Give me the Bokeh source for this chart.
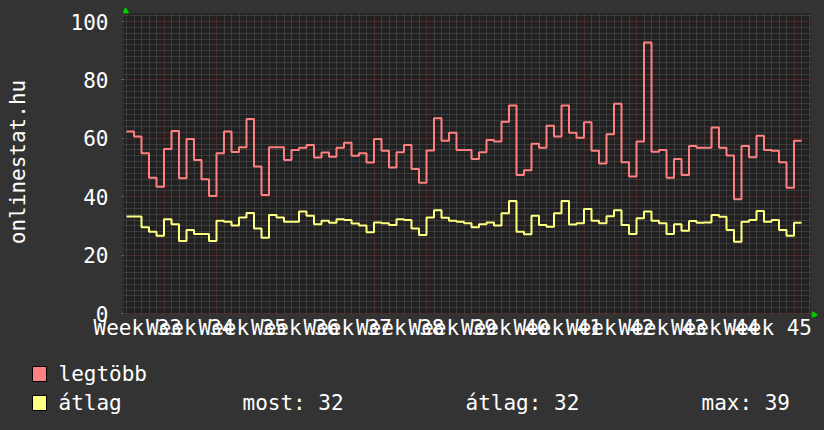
import math
from bokeh.plotting import figure
from bokeh.models import Range1d, FixedTicker, BoxAnnotation
from bokeh.core.properties import value
from bokeh.embed import file_html
from bokeh.resources import INLINE

# ---------------- data ----------------
weeks = list(range(33, 46))
week_labels = [f"Week {w}" for w in weeks]
y_ticks = [0, 20, 40, 60, 80, 100]

legtobb = [62.3, 60.6, 54.9, 46.5, 43.4, 56.3, 62.5, 46.3, 59.8, 52.6, 46.0, 40.2, 54.9, 62.3,
           55.3, 56.9, 66.6, 50.3, 40.6, 56.9, 56.9, 52.6, 56.0, 56.8, 57.7, 53.4, 55.1, 53.7, 56.8, 58.5,
           54.0, 54.9, 51.7, 59.8, 55.7, 50.0, 55.2, 57.7, 49.5, 44.8, 55.8, 66.9, 59.2, 61.9, 56.0, 56.0,
           52.9, 55.2, 59.4, 58.9, 65.7, 71.2, 47.4, 49.1, 58.1, 56.8, 64.3, 60.6, 71.2, 61.9, 60.2, 65.5,
           55.7, 51.4, 61.4, 71.8, 51.8, 46.9, 58.9, 92.8, 55.4, 56.0, 46.5, 52.9, 47.4, 57.4, 56.8,
           56.8, 63.7, 56.8, 54.1, 39.1, 57.4, 53.5, 60.9, 56.0, 55.7, 51.8, 43.1, 59.2]

atlag = [33.2, 33.2, 29.5, 28.0, 26.6, 32.3, 30.6, 24.8, 28.6, 27.2, 27.2, 24.8, 31.8, 31.4,
         30.1, 32.9, 34.4, 29.1, 25.9, 33.7, 32.9, 31.4, 31.4, 34.9, 33.5, 30.6, 31.8, 31.1, 32.3, 32.0,
         30.8, 30.1, 27.8, 31.2, 30.9, 30.3, 32.3, 32.0, 29.1, 26.9, 32.9, 35.4, 32.8, 31.8, 31.4, 30.9,
         29.5, 30.6, 31.2, 30.1, 34.3, 38.5, 28.0, 27.1, 33.5, 30.3, 29.7, 34.3, 38.5, 30.5, 30.9, 35.8,
         31.8, 30.9, 33.3, 35.4, 30.3, 27.2, 32.6, 34.9, 31.8, 30.9, 27.2, 30.6, 28.3, 31.7, 31.1,
         31.2, 33.7, 33.1, 28.6, 24.6, 31.4, 32.0, 35.1, 31.4, 32.0, 28.6, 26.6, 31.1]

series_names = ["legtöbb", "átlag"]
stat_texts = ["most: 32", "átlag: 32", "max: 39"]
y_title = "onlinestat.hu"

# day index 0 = first full day shown; the week of "Week 34" starts at day 5
first_week_boundary = 5
days = list(range(len(legtobb) + 1))
red_y = legtobb + [legtobb[-1]]
yel_y = atlag + [atlag[-1]]
week_bounds = [first_week_boundary + 7 * i for i in range(len(weeks))]
week_centers = [b - 3.5 for b in week_bounds]
day_lines = [d for d in range(0, 92) if d not in week_bounds]

# ---------------- style ----------------
FONT = "DejaVu Sans Mono"
BG = "#333333"
CANVAS = "#212121"
RED = "#ff8080"
YEL = "#ffff80"
TXT = "#ffffff"
GREEN = "#00cc00"

W = 824
H_MAIN, H_LEG = 350, 80
PX_DAY, PX_UNIT = 7.5, 2.92
FL, FT = 123, 6             # frame left / top (px)
FR_PX, FB_PX = 818, 317     # frame right / bottom (px)
X0 = -0.4
XP1 = 91.2                  # right edge of plot area (data)
YP1 = 102.74                # top edge of plot area (data)
X1 = X0 + (FR_PX - FL) / PX_DAY
Y0 = -(FB_PX - 313) / PX_UNIT
Y1 = (313 - FT) / PX_UNIT

p = figure(width=W, height=H_MAIN, x_range=Range1d(X0, X1), y_range=Range1d(Y0, Y1),
           output_backend="svg", toolbar_location=None,
           min_border_left=FL, min_border_right=W - FR_PX, min_border_top=FT,
           min_border_bottom=H_MAIN - FB_PX,
           background_fill_color=BG, border_fill_color=BG, outline_line_color=None)

# dark plot area
p.add_layout(BoxAnnotation(left=X0, right=XP1, bottom=0, top=YP1, fill_color=CANVAS,
                           fill_alpha=1, line_color=None, level="image"))

# axes
p.xaxis.ticker = FixedTicker(ticks=week_centers, minor_ticks=[])
p.xaxis.major_label_overrides = {c: t for c, t in zip(week_centers, week_labels)}
p.xaxis.major_tick_line_color = None
p.xaxis.minor_tick_line_color = None
p.xaxis.axis_line_color = None
p.xaxis.major_label_standoff = -8
p.xaxis.major_label_text_font = FONT
p.xaxis.major_label_text_font_size = "21px"
p.xaxis.major_label_text_color = TXT

p.yaxis.ticker = FixedTicker(ticks=y_ticks, minor_ticks=[])
p.yaxis.major_tick_out = 2
p.yaxis.major_tick_in = 0
p.yaxis.major_tick_line_color = "#707070"
p.yaxis.minor_tick_line_color = None
p.yaxis.axis_line_color = None
p.yaxis.major_label_standoff = 13
p.yaxis.major_label_text_font = FONT
p.yaxis.major_label_text_font_size = "21px"
p.yaxis.major_label_text_color = TXT
p.yaxis.axis_label = y_title
p.yaxis.axis_label_text_font = FONT
p.yaxis.axis_label_text_font_size = "21px"
p.yaxis.axis_label_text_font_style = "normal"
p.yaxis.axis_label_text_color = TXT
p.yaxis.axis_label_text_line_height = 0.8
p.yaxis.axis_label_standoff = 38

# grids
p.xgrid.ticker = FixedTicker(ticks=week_bounds, minor_ticks=day_lines)
p.ygrid.ticker = FixedTicker(ticks=y_ticks,
                             minor_ticks=[v for v in range(0, 103, 2) if v not in y_ticks])
for g in (p.xgrid, p.ygrid):
    g.grid_line_color = "#7a3030"
    g.grid_line_dash = "1 1"
    g.minor_grid_line_color = "#575757"
    g.minor_grid_line_dash = "1 1"
try:
    p.xgrid.cross_bounds = (0, YP1)
    p.ygrid.cross_bounds = (X0, XP1)
except Exception:
    pass

# data
p.step(days, red_y, mode="after", line_color=RED, line_width=2)
p.step(days, yel_y, mode="after", line_color=YEL, line_width=2)

# axis arrows
p.scatter([X0 + 2 / PX_DAY], [YP1 + 2.3 / PX_UNIT], marker="triangle", size=6,
          fill_color=GREEN, line_color=GREEN)
p.scatter([XP1 + 3.5 / PX_DAY], [-1.3 / PX_UNIT], marker="triangle", size=6, angle=-math.pi / 2,
          fill_color=GREEN, line_color=GREEN)

# ---------------- legend panel (separate root, px coordinates) ----------------
q = figure(width=W, height=H_LEG, x_range=Range1d(0, W), y_range=Range1d(H_LEG, 0),
           output_backend="svg", toolbar_location=None, x_axis_type=None, y_axis_type=None,
           min_border_left=0, min_border_right=0, min_border_top=0, min_border_bottom=0,
           background_fill_color=BG, border_fill_color=BG, outline_line_color=None)
q.xgrid.visible = False
q.ygrid.visible = False

row_y = [23, 52]
q.quad(left=[32, 32], right=[46, 46], top=[y - 7 for y in row_y], bottom=[y + 8 for y in row_y],
       fill_color=[RED, YEL], line_color="#000000", line_width=1)
q.text(x=[58, 58], y=row_y, text=series_names, text_font=value(FONT),
       text_font_size=value("21px"), text_baseline=value("middle"), text_align=value("left"),
       text_color=TXT)
q.text(x=[242, 465, 701], y=[row_y[1]] * 3, text=stat_texts, text_font=value(FONT),
       text_font_size=value("21px"), text_baseline=value("middle"), text_align=value("left"),
       text_color=TXT)

html = file_html([p, q], INLINE)
html = html.replace("</head>", "<style>html, body { background: #333333; }</style></head>", 1)
open("out.html", "w").write(html)
